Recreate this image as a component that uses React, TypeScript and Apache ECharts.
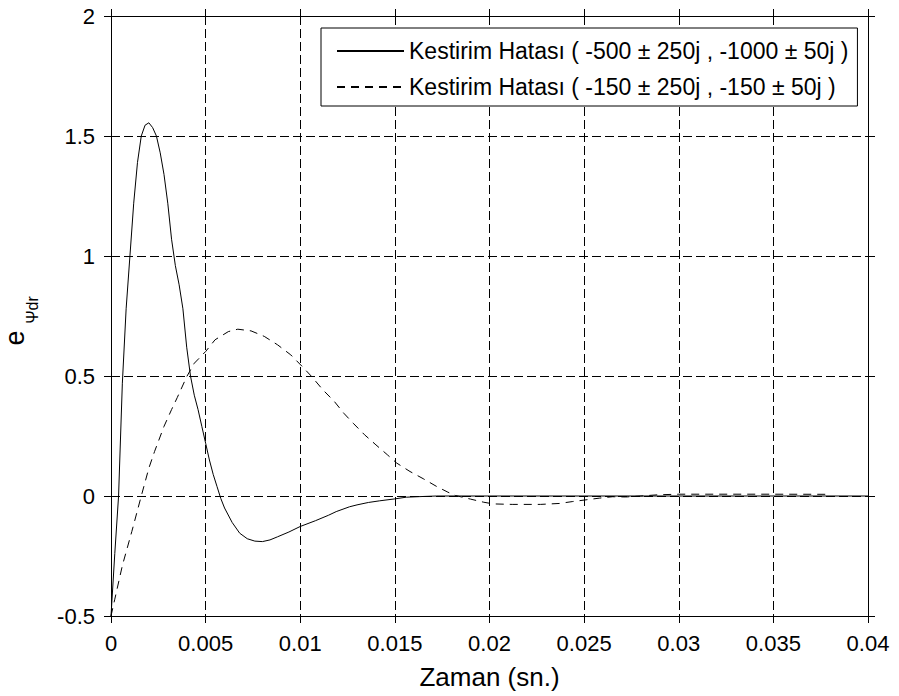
import React, { useEffect, useRef } from "react";
import * as echarts from "echarts";

// Time axis (s) and tick labels
const xTickLabels = ["0", "0.005", "0.01", "0.015", "0.02", "0.025", "0.03", "0.035", "0.04"];
const yTickLabels = ["-0.5", "0", "0.5", "1", "1.5", "2"];

// Estimation error, poles (-500 ± 250j, -1000 ± 50j)
const fastTime = [
  0, 0.0002, 0.0004, 0.0006, 0.0008, 0.001, 0.0012, 0.0014, 0.0016, 0.0018,
  0.002, 0.0022, 0.0024, 0.0026, 0.0028, 0.003, 0.0032, 0.0034, 0.0036, 0.0038,
  0.004, 0.0042, 0.0044, 0.0046, 0.0048, 0.005, 0.0052, 0.0054, 0.0056, 0.0058,
  0.006, 0.0064, 0.0068, 0.0072, 0.0076, 0.008, 0.0084, 0.0088, 0.0094, 0.01,
  0.0108, 0.0115, 0.0119, 0.0126, 0.013, 0.0136, 0.0142, 0.015, 0.0156, 0.0165,
  0.0172, 0.02, 0.03, 0.04,
];
const fastError = [
  -0.5, -0.24, 0.0, 0.47, 0.78, 1.0, 1.22, 1.39, 1.5, 1.545,
  1.555, 1.535, 1.5, 1.43, 1.34, 1.22, 1.07, 0.96, 0.88, 0.78,
  0.62, 0.5, 0.42, 0.36, 0.29, 0.22, 0.15, 0.09, 0.04, -0.01,
  -0.05, -0.11, -0.155, -0.178, -0.188, -0.19, -0.183, -0.17, -0.15, -0.127,
  -0.103, -0.08, -0.065, -0.045, -0.037, -0.027, -0.02, -0.012, -0.005, -0.002,
  0, 0, 0, 0,
];

// Estimation error, poles (-150 ± 250j, -150 ± 50j)
const slowTime = [
  0, 0.0002, 0.0006, 0.0011, 0.0016, 0.002, 0.0023, 0.0028, 0.0032, 0.0035,
  0.004, 0.0044, 0.005, 0.0055, 0.0062, 0.0067, 0.0074, 0.0081, 0.0088, 0.0095,
  0.0101, 0.0106, 0.0112, 0.0118, 0.0123, 0.0128, 0.0134, 0.014, 0.0146, 0.0151,
  0.0158, 0.0165, 0.0172, 0.0178, 0.0182, 0.019, 0.0197, 0.0202, 0.0212, 0.0227,
  0.0237, 0.0244, 0.0251, 0.0258, 0.0265, 0.0272, 0.028, 0.0289, 0.03, 0.035,
  0.038,
];
const slowError = [
  -0.5, -0.43, -0.29, -0.148, 0.0, 0.116, 0.185, 0.29, 0.36, 0.41,
  0.497, 0.553, 0.602, 0.651, 0.685, 0.695, 0.688, 0.665, 0.63, 0.588,
  0.54, 0.498, 0.442, 0.394, 0.345, 0.303, 0.255, 0.213, 0.172, 0.137,
  0.102, 0.072, 0.04, 0.016, 0.002, -0.013, -0.026, -0.033, -0.035, -0.035,
  -0.031, -0.023, -0.016, -0.009, -0.003, -0.004, 0.0, 0.005, 0.0075, 0.0075,
  0.007,
];

const seriesNames = [
  "Kestirim Hatası ( -500 ± 250j , -1000 ± 50j )",
  "Kestirim Hatası ( -150 ± 250j , -150 ± 50j )",
];

const FONT = "'Liberation Sans', Arial, Helvetica, sans-serif";

const zip = (xs: number[], ys: number[]) => xs.map((x, i) => [x, ys[i]]);

export default function App() {
  const ref = useRef<HTMLDivElement>(null);

  useEffect(() => {
    if (!ref.current) return;
    const chart = echarts.init(ref.current, undefined, { renderer: "svg" });

    const tick = { show: true, inside: false, length: 7, lineStyle: { color: "#000", width: 1 } };
    const line = { show: true, onZero: false, lineStyle: { color: "#000", width: 1 } };
    const grid = { show: true, lineStyle: { color: "#000", width: 1, type: [9, 4] as any } };

    chart.setOption({
      animation: false,
      backgroundColor: "#fff",
      textStyle: { fontFamily: FONT },
      grid: { left: 111, right: 31, top: 16, bottom: 80, containLabel: false },
      legend: {
        orient: "vertical",
        left: 321,
        top: 28,
        padding: [11, 9, 7, 15],
        itemGap: 12,
        itemWidth: 67,
        itemHeight: 14,
        backgroundColor: "#fff",
        borderColor: "#000",
        borderWidth: 1,
        borderRadius: 0,
        itemStyle: { color: "rgba(0,0,0,0)", borderColor: "rgba(0,0,0,0)", borderWidth: 0 },
        textStyle: { color: "#000", fontSize: 23, lineHeight: 24, fontFamily: FONT },
        data: seriesNames,
      },
      xAxis: [
        {
          type: "value",
          min: 0,
          max: 0.04,
          interval: 0.005,
          position: "bottom",
          axisLine: line,
          axisTick: tick,
          splitLine: grid,
          axisLabel: {
            color: "#000",
            fontSize: 22,
            margin: 16,
            fontFamily: FONT,
            formatter: (_v: number, i: number) => xTickLabels[i],
          },
          name: "Zaman (sn.)",
          nameLocation: "middle",
          nameGap: 48,
          nameTextStyle: { color: "#000", fontSize: 26, fontFamily: FONT },
        },
        {
          type: "value",
          min: 0,
          max: 0.04,
          interval: 0.005,
          position: "top",
          axisLine: line,
          axisTick: tick,
          splitLine: { show: false },
          axisLabel: { show: false },
        },
      ],
      yAxis: [
        {
          type: "value",
          min: -0.5,
          max: 2,
          interval: 0.5,
          position: "left",
          axisLine: line,
          axisTick: tick,
          splitLine: grid,
          axisLabel: {
            color: "#000",
            fontSize: 22,
            margin: 16,
            fontFamily: FONT,
            formatter: (_v: number, i: number) => yTickLabels[i],
          },
        },
        {
          type: "value",
          min: -0.5,
          max: 2,
          interval: 0.5,
          position: "right",
          axisLine: line,
          axisTick: tick,
          splitLine: { show: false },
          axisLabel: { show: false },
        },
      ],
      series: [
        {
          name: seriesNames[0],
          type: "line",
          data: zip(fastTime, fastError),
          symbol: "none",
          smooth: false,
          lineStyle: { color: "#000", width: 1, type: "solid" },
          itemStyle: { color: "#000" },
          z: 3,
        },
        {
          name: seriesNames[1],
          type: "line",
          data: zip(slowTime, slowError),
          symbol: "none",
          smooth: false,
          lineStyle: { color: "#000", width: 1, type: [8, 6] as any },
          itemStyle: { color: "#000" },
          z: 3,
        },
      ],
      graphic: [
        {
          type: "text",
          x: 15,
          y: 338,
          rotation: Math.PI / 2,
          style: {
            text: "e",
            fill: "#000",
            font: `27px ${FONT}`,
            textAlign: "center",
            textVerticalAlign: "middle",
          },
        },
        {
          type: "text",
          x: 32,
          y: 310,
          rotation: Math.PI / 2,
          style: {
            text: "Ψdr",
            fill: "#000",
            font: `16px ${FONT}`,
            textAlign: "center",
            textVerticalAlign: "middle",
          },
        },
      ],
    });

    return () => chart.dispose();
  }, []);

  return (
    <div
      ref={ref}
      style={{ position: "absolute", left: 0, top: 0, width: 899, height: 696, background: "#fff" }}
    />
  );
}
